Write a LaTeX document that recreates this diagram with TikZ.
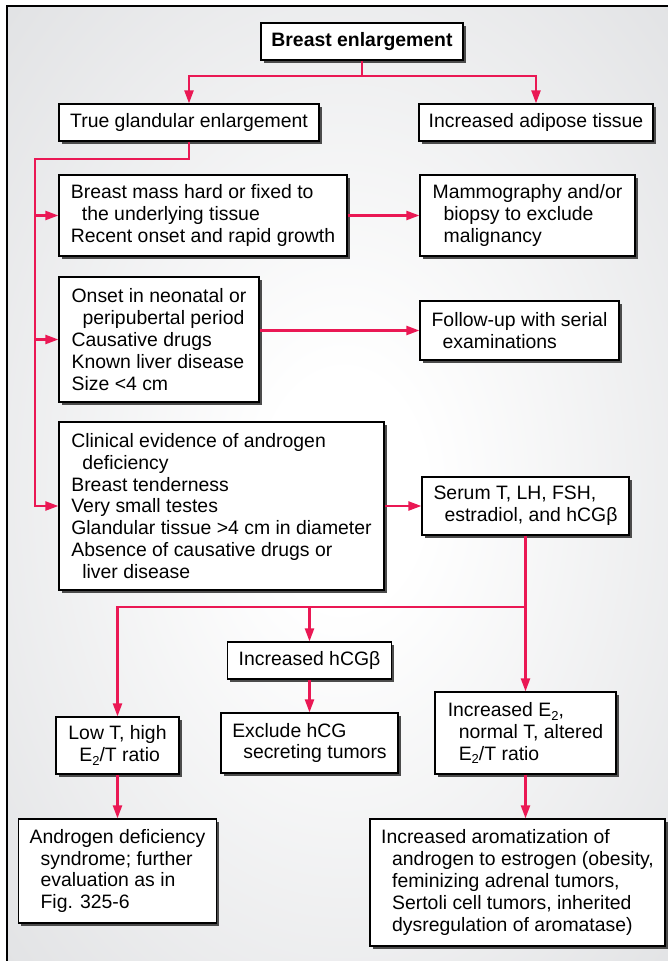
\documentclass[tikz,border=0pt]{standalone}
\usepackage{fontspec}
\setmainfont{Liberation Sans}
\usetikzlibrary{arrows.meta,shadows}
\definecolor{flow}{RGB}{234,24,84}
\definecolor{bgedge}{RGB}{225,226,228}
% lowered subscript two for E2
\newcommand{\lowtwo}{\raisebox{-0.35ex}{\fontsize{13pt}{13pt}\selectfont 2}}
% hanging indent of continuation lines
\newcommand{\ind}{\hspace*{11pt}}
\pgfdeclareradialshading{bgshade}{\pgfpoint{0bp}{0bp}}{%
  color(0bp)=(white); color(6bp)=(white);
  color(36bp)=(bgedge); color(50bp)=(bgedge)}
\begin{document}
\begin{tikzpicture}[x=1pt,y=-1pt,
  box/.style={draw=black, line width=1.2pt, fill=white, inner sep=0pt, align=left,
    font=\fontsize{19.4pt}{21.8pt}\selectfont,
    drop shadow={shadow xshift=2.5pt, shadow yshift=-2.5pt, fill=black!70, opacity=1}},
  ctr/.style={box, align=center},
  link/.style={draw=flow, line width=2.2pt},
  arr/.style={link, -{Triangle[length=13pt,width=9pt]}},
]
\useasboundingbox (0,0) rectangle (668,961);
% panel background and frame
\shade[shading=bgshade] (7,6) rectangle (680,975);
\draw[line width=1.8pt] (680,6) -- (7,6) -- (7,975);

% boxes
\node[ctr, minimum width=202pt, minimum height=37pt] (b0) at (362,41.5) {\bfseries Breast enlargement};
\node[ctr, minimum width=260pt, minimum height=37pt] (b1) at (189,122.5) {True glandular enlargement};
\node[ctr, minimum width=234pt, minimum height=37pt] (b2) at (536,122.5) {Increased adipose tissue};
\node[box, minimum width=288pt, minimum height=81pt] (b3) at (203,215.5)
  {Breast mass hard or fixed to\\\ind the underlying tissue\\Recent onset and rapid growth};
\node[box, minimum width=215pt, minimum height=81pt] (b4) at (527.5,215.5)
  {Mammography and/or\\\ind biopsy to exclude\\\ind malignancy};
\node[box, minimum width=200pt, minimum height=125pt] (b5) at (159,339.5)
  {Onset in neonatal or\\\ind peripubertal period\\Causative drugs\\Known liver disease\\Size <4 cm};
\node[box, minimum width=199pt, minimum height=59pt] (b6) at (519.5,330.5)
  {Follow-up with serial\\\ind examinations};
\node[box, minimum width=325pt, minimum height=168pt] (b7) at (221.5,506)
  {Clinical evidence of androgen\\\ind deficiency\\Breast tenderness\\Very small testes\\Glandular tissue >4 cm in diameter\\Absence of causative drugs or\\\ind liver disease};
\node[box, minimum width=207pt, minimum height=58pt] (b8) at (525.5,506)
  {Serum T, LH, FSH,\\\ind estradiol, and hCGβ};
\node[ctr, minimum width=164pt, minimum height=37pt] (b9) at (309.5,660.5) {Increased hCGβ};
\node[box, minimum width=177pt, minimum height=60pt] (b10) at (309.5,743)
  {Exclude hCG\\\ind secreting tumors};
\node[box, minimum width=123pt, minimum height=57pt] (b11) at (117.5,745.5)
  {Low T, high\\\ind E\lowtwo/T ratio};
\node[box, minimum width=181pt, minimum height=82pt] (b12) at (525.5,733)
  {Increased E\lowtwo,\\\ind normal T, altered\\\ind E\lowtwo/T ratio};
\node[box, minimum width=198pt, minimum height=104pt] (b13) at (117.5,871)
  {Androgen deficiency\\\ind syndrome; further\\\ind evaluation as in\\\ind Fig. 325-6};
\node[box, minimum width=295pt, minimum height=127pt] (b14) at (517.5,882.5)
  {Increased aromatization of\\\ind androgen to estrogen (obesity,\\\ind feminizing adrenal tumors,\\\ind Sertoli cell tumors, inherited\\\ind dysregulation of aromatase)};

% connectors
\coordinate (j0) at (362,76);
\draw[arr] (b0.south) -- (j0) -| (b1.north);
\draw[arr] (j0) -| (b2.north);
\coordinate (t0) at (35,159);
\draw[arr] (b1.south) |- (t0) |- (b7.west);
\draw[arr] (b3.west -| t0) -- (b3.west);
\draw[arr] (b5.west -| t0) -- (b5.west);
\draw[arr] (b3.east) -- (b4.west);
\draw[arr] (b5.east |- b6.west) -- (b6.west);
\draw[arr] (b7.east) -- (b8.west);
\coordinate (j1) at (525.5,607);
\draw[arr] (b8.south) -- (b12.north);
\draw[arr] (j1) -| (b11.north);
\draw[arr] (j1 -| b9.north) -- (b9.north);
\draw[arr] (b9.south) -- (b10.north);
\draw[arr] (b11.south) -- (b13.north);
\draw[arr] (b12.south) -- (b12.south |- b14.north);
\end{tikzpicture}
\end{document}
